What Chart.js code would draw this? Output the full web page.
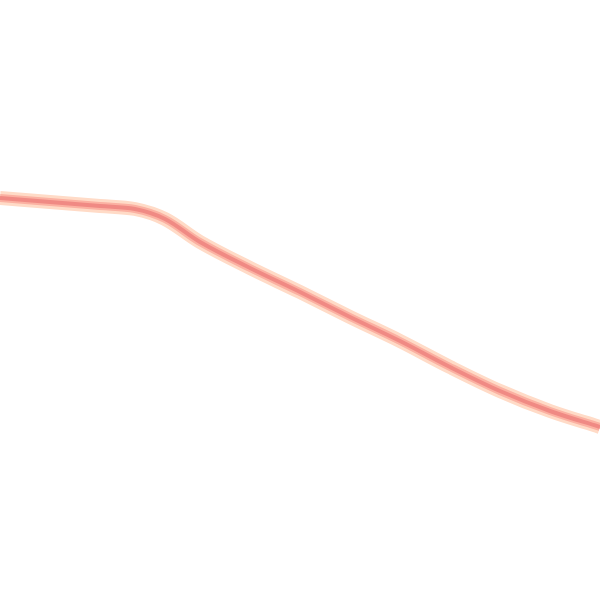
<!DOCTYPE html>
<html lang="en">
<head>
  <meta charset="UTF-8" />
  <title>Line</title>
  <script src="https://cdn.jsdelivr.net/npm/chart.js"></script>
  <style>
    html, body { margin: 0; padding: 0; background: #fff; }
    #lineChart { display: block; }
  </style>
</head>
<body>
  <canvas id="lineChart" width="600" height="600"></canvas>

<script>
const xs = [0, 50, 100, 135, 165, 200, 250, 300, 350, 400, 450, 500, 550, 600];
const ys = [198, 202, 206, 209, 219, 242, 268, 292, 317, 341, 367, 391, 411, 427];

const points = xs.map((x, i) => ({ x: x, y: ys[i] }));

// three passes of the same line: soft halo, mid tone, core
function layer(color, width) {
  return {
    data: points,
    borderColor: color,
    borderWidth: width,
    pointRadius: 0,
    tension: 0.35,
    fill: false
  };
}

new Chart(document.getElementById('lineChart').getContext('2d'), {
  type: 'line',
  data: {
    datasets: [
      layer('#f08a84', 4),
      layer('#fbb1a2', 8),
      layer('#ffdbc7', 14)
    ]
  },
  options: {
    responsive: false,
    animation: false,
    devicePixelRatio: 1,
    layout: { padding: 0 },
    plugins: { legend: { display: false }, tooltip: { enabled: false } },
    scales: {
      x: { type: 'linear', min: 0, max: 600, display: false },
      y: { type: 'linear', min: 0, max: 600, reverse: true, display: false }
    }
  }
});
</script>
</body>
</html>
